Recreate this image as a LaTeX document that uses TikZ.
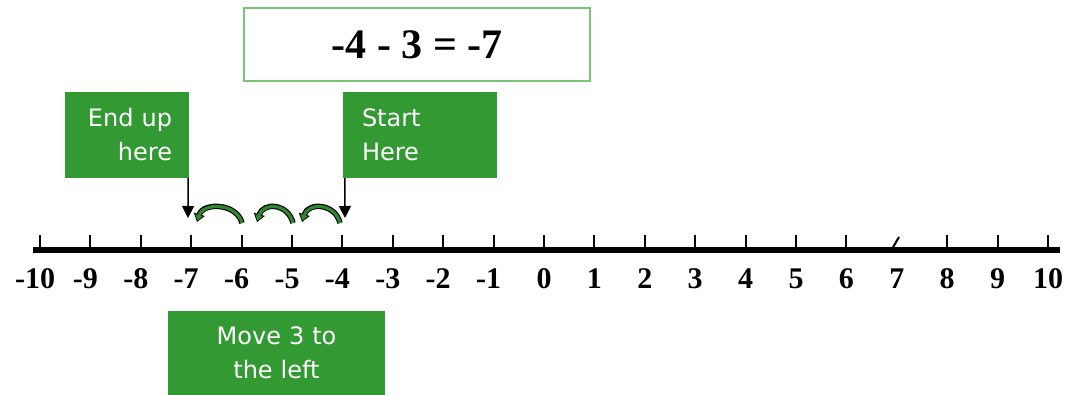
\documentclass[tikz,border=0pt]{standalone}
\usepackage{fontspec}
\setmainfont{Liberation Serif}
\newfontfamily\labelfont{DejaVu Sans}
\usetikzlibrary{arrows.meta,calc}
\definecolor{boxgreen}{RGB}{51,153,51}
\definecolor{eqgreen}{RGB}{120,196,120}
\definecolor{hopgreen}{RGB}{46,135,46}
\tikzset{
  greenbox/.style={fill=boxgreen, text=white, font=\labelfont\fontsize{24}{34}\selectfont, inner ysep=0pt},
  numlabel/.style={font=\bfseries\fontsize{30}{30}\selectfont, anchor=base, inner sep=0pt},
  tickmark/.style={line width=2pt},
  pointer/.style={line width=1.5pt, -{Triangle[length=12pt,width=12pt]}},
  hopedge/.style={line width=5.5pt, black, -{Triangle[length=8pt,width=11pt]}},
  hopfill/.style={line width=3.2pt, hopgreen, shorten >=1.5pt, -{Triangle[length=5.5pt,width=7.5pt]}},
}
\begin{document}
\begin{tikzpicture}[x=1pt,y=-1pt]
\useasboundingbox (0,0) rectangle (1068,395);
% equation
\node[draw=eqgreen, line width=2pt, minimum width=346pt, minimum height=73pt,
      font=\bfseries\fontsize{42}{42}\selectfont] (eq) at (417,44.5) {-4 - 3 = -7};
% green boxes
\node[greenbox, minimum height=86pt, text width=90pt, inner xsep=17pt, align=right]
  (endbox) at (127,135) {End up\\here};
\node[greenbox, minimum height=86pt, text width=116pt, inner xsep=19pt, align=left]
  (startbox) at (420,135) {Start\\Here};
\node[greenbox, minimum height=84pt, text width=200pt, inner xsep=8.5pt, align=center]
  (movebox) at (276.5,353) {Move 3 to\\the left};
% number line
\coordinate (lineL) at (33,250);
\coordinate (lineR) at (1060,250);
\draw[line width=5.5pt] (lineL) -- (lineR);
\foreach \n in {-10,...,10}{
  \pgfmathsetmacro\xx{40+(\n+10)*50.4}
  \pgfmathtruncatemacro\a{abs(\n)}
  \ifnum\n=7
    \coordinate (tb\n) at (892,249);
    \coordinate (tt\n) at (899,237);
  \else
    \coordinate (tb\n) at (\xx,250);
    \coordinate (tt\n) at (\xx,235);
  \fi
  \draw[tickmark] (tb\n) -- (tt\n);
  \ifnum\n<0
    \node[numlabel] (lab\n) at (\xx,289) {\llap{-}\a};
  \else
    \node[numlabel] (lab\n) at (\xx,289) {\a};
  \fi
}
% pointers
\coordinate (endtip) at (188,218);
\coordinate (starttip) at (345,218);
\draw[pointer] ([xshift=-1pt]endbox.south east) -- (endtip);
\draw[pointer] ([xshift=2pt]startbox.south west) -- (starttip);
% hops
\coordinate (h1a) at (242,223); \coordinate (h1b) at (197,222);
\coordinate (h2a) at (293,223); \coordinate (h2b) at (257,222);
\coordinate (h3a) at (340,223); \coordinate (h3b) at (302,222);
\foreach \i in {1,2,3}{
  \draw[hopedge] (h\i a) .. controls ($(h\i a)+(-5,-20)$) and ($(h\i b)+(6,-20)$) .. (h\i b);
  \draw[hopfill] (h\i a) .. controls ($(h\i a)+(-5,-20)$) and ($(h\i b)+(6,-20)$) .. (h\i b);
}
\end{tikzpicture}
\end{document}
